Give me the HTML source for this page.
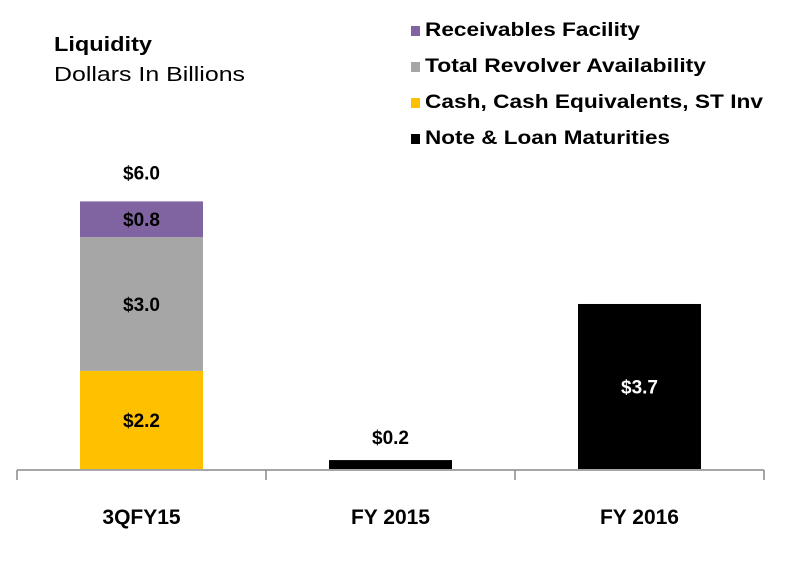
<!DOCTYPE html>
<html><head><meta charset="utf-8"><style>
body{margin:0;background:#fff;}
svg{display:block;font-family:"Liberation Sans",Arial,sans-serif;}
</style></head><body>
<svg id="c" width="801" height="561">
<text x="54" y="51" font-size="20" font-weight="bold" fill="#000" textLength="98" lengthAdjust="spacingAndGlyphs">Liquidity</text>
<text x="54" y="81" font-size="20" fill="#000" textLength="191" lengthAdjust="spacingAndGlyphs">Dollars In Billions</text>
<g id="legend"></g>
<g id="bars"></g>
<g id="axis"></g>
</svg>
<script>
const categories=["3QFY15","FY 2015","FY 2016"];
const cashVals=[2.2,0,0];
const revolverVals=[3.0,0,0];
const receivablesVals=[0.8,0,0];
const maturityVals=[0,0.2,3.7];
const totalLabels=["$6.0","",""];
const legendNames=["Receivables Facility","Total Revolver Availability","Cash, Cash Equivalents, ST Inv","Note & Loan Maturities"];
const NS="http://www.w3.org/2000/svg";
const base=469,pxPer=44.6,x0=17,step=249,barW=123;
const y=v=>base-v*pxPer;
const xc=i=>x0+step*i+step/2;
function mk(t,a,p){const e=document.createElementNS(NS,t);for(const k in a)e.setAttribute(k,a[k]);p.appendChild(e);return e;}
const bars=document.getElementById('bars'),legend=document.getElementById('legend'),axis=document.getElementById('axis');
const colors=["#8064a2","#a6a6a6","#ffc000","#000"];
const lw=[215,281,338,245];
legendNames.forEach((n,i)=>{
 const yy=34+i*36;
 const r=mk('rect',{x:411,y:yy-8,width:9,height:10,fill:colors[i]},legend);
 
 
 const t=mk('text',{x:425,y:yy+2,'font-size':19,'font-weight':'bold',textLength:lw[i],lengthAdjust:'spacingAndGlyphs'},legend);
 t.textContent=n;
 
 
});
function seg(i,v0,v,col,txtCol,name,labelOutside){
 if(v<=0)return;
 const r=mk('rect',{x:xc(i)-barW/2,y:y(v0+v),width:barW,height:v*pxPer,fill:col},bars);
 
 
 const ty=labelOutside?y(v0+v)-16:y(v0+v/2)+7;
 const t=mk('text',{x:xc(i),y:ty,'font-size':19,'font-weight':'bold','text-anchor':'middle',fill:labelOutside?'#000':txtCol},bars);
 t.textContent='$'+v.toFixed(1);
 
 
}
categories.forEach((c,i)=>{
 seg(i,0,cashVals[i],'#ffc000','#000','bar-cash',false);
 seg(i,cashVals[i],revolverVals[i],'#a6a6a6','#000','bar-revolver',false);
 seg(i,cashVals[i]+revolverVals[i],receivablesVals[i],'#8064a2','#000','bar-receivables',false);
 seg(i,0,maturityVals[i],'#000','#fff','bar-maturities',maturityVals[i]<0.5);
 if(totalLabels[i]){
  const tot=cashVals[i]+revolverVals[i]+receivablesVals[i];
  const t=mk('text',{x:xc(i),y:y(tot)-22,'font-size':19,'font-weight':'bold','text-anchor':'middle'},bars);
  t.textContent=totalLabels[i];
  
  
 }
 const t=mk('text',{x:xc(i),y:524,'font-size':21,'font-weight':'bold','text-anchor':'middle'},axis);
 t.textContent=c;
 
 
});
const l=mk('line',{x1:x0,x2:x0+step*3,y1:base+1,y2:base+1,stroke:'#888','stroke-width':1.5},axis);


for(let k=0;k<=3;k++){
 const tk=mk('line',{x1:x0+step*k,x2:x0+step*k,y1:base+1,y2:base+11,stroke:'#888','stroke-width':1.5},axis);
 
 
}
</script>
</body></html>
